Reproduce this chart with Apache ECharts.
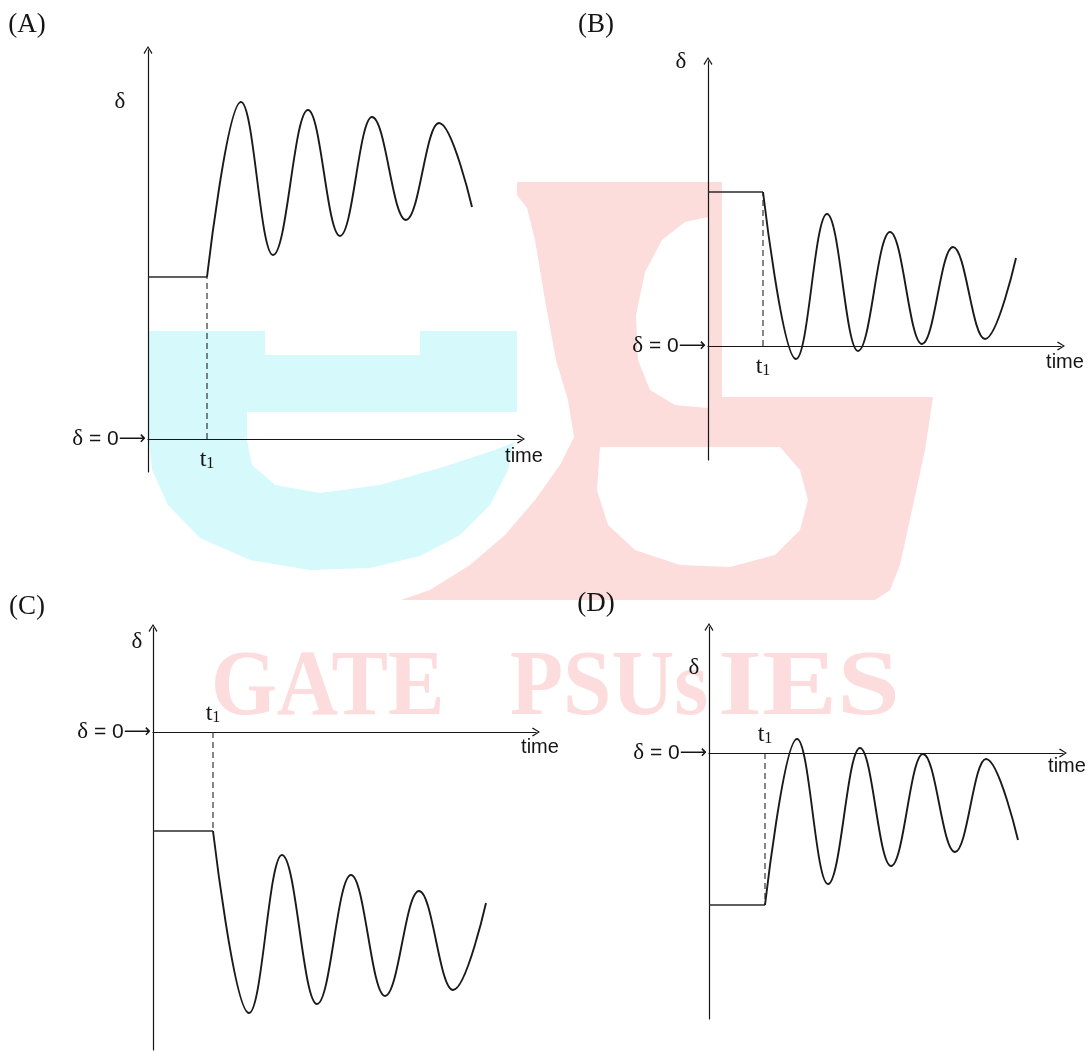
<!DOCTYPE html>
<html><head><meta charset="utf-8">
<script src="https://cdn.jsdelivr.net/npm/echarts@6/dist/echarts.min.js"></script>
<style>html,body{margin:0;padding:0;background:#fff}#c{width:1091px;height:1051px}</style>
</head><body><div id="c"></div><script>
// Panel A
const A_time  = [5.9, 9.3, 12.5, 16.0, 19.2, 22.4, 25.8, 29.1, 32.4];
const A_delta = [16.2, 33.7, 18.4, 32.9, 20.3, 32.2, 21.9, 31.6, 23.2];
const A_t1 = 5.9, A_d0 = 16.2;
// Panel B
const B_time  = [5.5, 8.8, 11.9, 15.0, 18.2, 21.4, 24.5, 27.7, 30.8];
const B_delta = [15.4, -1.3, 13.2, -0.5, 11.4, 0.2, 9.9, 0.7, 8.8];
const B_t1 = 5.5, B_d0 = 15.4;
// Panel C
const C_time  = [6.0, 9.6, 12.9, 16.4, 19.8, 23.2, 26.6, 30.0, 33.3];
const C_delta = [-9.9, -28.1, -12.3, -27.2, -14.3, -26.4, -15.9, -25.8, -17.1];
const C_t1 = 6.0, C_d0 = -9.9;
// Panel D
const D_time  = [5.6, 8.8, 11.9, 15.1, 18.2, 21.4, 24.6, 27.7, 30.9];
const D_delta = [-15.2, 1.4, -13.1, 0.5, -11.3, -0.1, -9.9, -0.6, -8.7];
const D_t1 = 5.6, D_d0 = -15.2;

const panelNames = ['(A)', '(B)', '(C)', '(D)'];
const xLabelText = 'time';
const yLabelText = 'δ';

// ---- LAYOUT ----
const panels = [
  {time:A_time, delta:A_delta, t1:A_t1, d0:A_d0, left:148, top:50,  width:373, height:422, xmax:37.3, ymin:-3.3,  ymax:38.9, above:false,
   name:[27,25], dlab:[120,102], tlab:[524,456]},
  {time:B_time, delta:B_delta, t1:B_t1, d0:B_d0, left:708, top:61,  width:353, height:399, xmax:35.3, ymin:-11.4, ymax:28.5, above:false,
   name:[596,25], dlab:[681,62], tlab:[1065,362]},
  {time:C_time, delta:C_delta, t1:C_t1, d0:C_d0, left:153, top:628, width:383, height:422, xmax:38.3, ymin:-31.8, ymax:10.4, above:true,
   name:[27,607], dlab:[137,642], tlab:[540,747]},
  {time:D_time, delta:D_delta, t1:D_t1, d0:D_d0, left:709, top:627, width:354, height:392, xmax:35.4, ymin:-26.6, ymax:12.6, above:true,
   name:[596,604], dlab:[694,668], tlab:[1067,766]}
];

const INK = '#151515';
const ARROW = 'path://M5,0 L10,8 L9,9 L5,2.2 L1,9 L0,8 Z';

const grids = [], xAxes = [], yAxes = [], series = [];
panels.forEach((p, i) => {
  grids.push({left:p.left, top:p.top, width:p.width, height:p.height, containLabel:false});
  // place the time axis on δ = 0 (offset measured from the grid bottom through the δ scale)
  const zeroOffset = -(0 - p.ymin) / (p.ymax - p.ymin) * p.height;
  xAxes.push({
    gridIndex:i, type:'value', min:0, max:p.xmax, position:'bottom', offset:zeroOffset,
    axisLine:{onZero:false, symbol:['none', ARROW], symbolSize:[9,8], lineStyle:{color:INK, width:1.2}},
    axisTick:{show:false}, splitLine:{show:false},
    axisLabel:{customValues:[p.t1], inside:p.above, margin:p.above ? 6 : 9,
      formatter:() => '{t|t}{n|1}',
      rich:{t:{fontFamily:'Liberation Serif', fontSize:24, color:INK, verticalAlign:'bottom'},
            n:{fontFamily:'Liberation Serif', fontSize:16, color:INK, verticalAlign:'bottom'}}}
  });
  yAxes.push({
    gridIndex:i, type:'value', min:p.ymin, max:p.ymax,
    axisLine:{onZero:true, symbol:['none', ARROW], symbolSize:[9,8], lineStyle:{color:INK, width:1.2}},
    axisTick:{show:false}, splitLine:{show:false},
    axisLabel:{customValues:[0], margin:2,
      formatter:() => '{d|δ}{e| = 0}{a|⟶}',
      rich:{d:{fontFamily:'Liberation Serif', fontSize:23, color:INK},
            e:{fontFamily:'Liberation Sans', fontSize:21, color:INK},
            a:{fontFamily:'DejaVu Sans', fontSize:19, color:INK}}}
  });
  // steady state before disturbance
  series.push({type:'line', xAxisIndex:i, yAxisIndex:i, data:[[0, p.d0], [p.t1, p.d0]],
    symbol:'none', lineStyle:{color:'#2a2a2a', width:1.3}, silent:true, z:3});
  // dashed marker at t1
  series.push({type:'line', xAxisIndex:i, yAxisIndex:i, data:[[p.t1, 0], [p.t1, p.d0]],
    symbol:'none', lineStyle:{color:'#222', width:1.1, type:[6,4]}, silent:true, z:3});
  // swing curve (turning points; smoothed with flat tangents at each extreme)
  series.push({type:'line', xAxisIndex:i, yAxisIndex:i,
    data:p.time.map((t, k) => [t, p.delta[k]]),
    symbol:'none', smooth:0.4, smoothMonotone:'x', lineStyle:{color:'#1a1a1a', width:1.9}, silent:true, z:4});
});

// ---- watermark (decorative background) ----
const CYAN = '#d6f9fc', PINK = '#fddcdc', WHITE = '#ffffff';
const poly = (pts, fill) => ({type:'polygon', z:-10, silent:true, shape:{points:pts}, style:{fill:fill}});
const graphics = [
  // cyan "e"
  poly([[149,331],[517,331],[517,430],[508,470],[490,505],[460,535],[420,556],[370,568],[310,570],[250,560],[200,538],[168,505],[152,470],[149,440]], CYAN),
  poly([[265,331],[420,331],[420,355],[265,355]], WHITE),
  poly([[247,412],[520,412],[520,440],[495,450],[440,468],[380,485],[320,493],[275,485],[252,465],[247,440]], WHITE),
  // pink "S"
  poly([[517,182],[722,182],[722,397],[933,397],[925,450],[912,510],[900,565],[890,590],[875,600],[401,600],[430,590],[470,565],[505,535],[535,500],[560,465],[574,437],[568,400],[556,360],[545,300],[535,240],[527,208],[517,195]], PINK),
  poly([[708,217],[685,222],[662,240],[645,272],[636,315],[638,360],[650,390],[675,405],[708,408]], WHITE),
  poly([[600,447],[780,447],[800,470],[808,500],[800,530],[775,555],[730,567],[680,565],[635,550],[608,525],[597,490]], WHITE)
];
const wm = [['GATE', 211, 0.9], ['PSUs', 510, 0.925], ['IES', 718, 1.2]];
wm.forEach(w => graphics.push({type:'text', z:-9, silent:true, x:w[1], y:690, scaleX:w[2],
  style:{text:w[0], font:'bold 94px "Liberation Serif"', fill:'#fcdcdc', textAlign:'left', align:'left', textVerticalAlign:'middle', verticalAlign:'middle'}}));

// ---- text labels ----
panels.forEach((p, i) => {
  graphics.push({type:'text', z:10, silent:true, x:p.name[0], y:p.name[1],
    style:{text:panelNames[i], font:'27px "Liberation Serif"', fill:INK, textAlign:'center', align:'center', textVerticalAlign:'middle', verticalAlign:'middle'}});
  graphics.push({type:'text', z:10, silent:true, x:p.dlab[0], y:p.dlab[1],
    style:{text:yLabelText, font:'23px "Liberation Serif"', fill:INK, textAlign:'center', align:'center', textVerticalAlign:'middle', verticalAlign:'middle'}});
  graphics.push({type:'text', z:10, silent:true, x:p.tlab[0], y:p.tlab[1],
    style:{text:xLabelText, font:'20px "Liberation Sans"', fill:INK, textAlign:'center', align:'center', textVerticalAlign:'middle', verticalAlign:'middle'}});
});

const chart = echarts.init(document.getElementById('c'), null, {renderer:'canvas'});
chart.setOption({
  animation:false,
  backgroundColor:'#ffffff',
  grid:grids, xAxis:xAxes, yAxis:yAxes, series:series,
  graphic:{elements:graphics}
});
</script></body></html>
